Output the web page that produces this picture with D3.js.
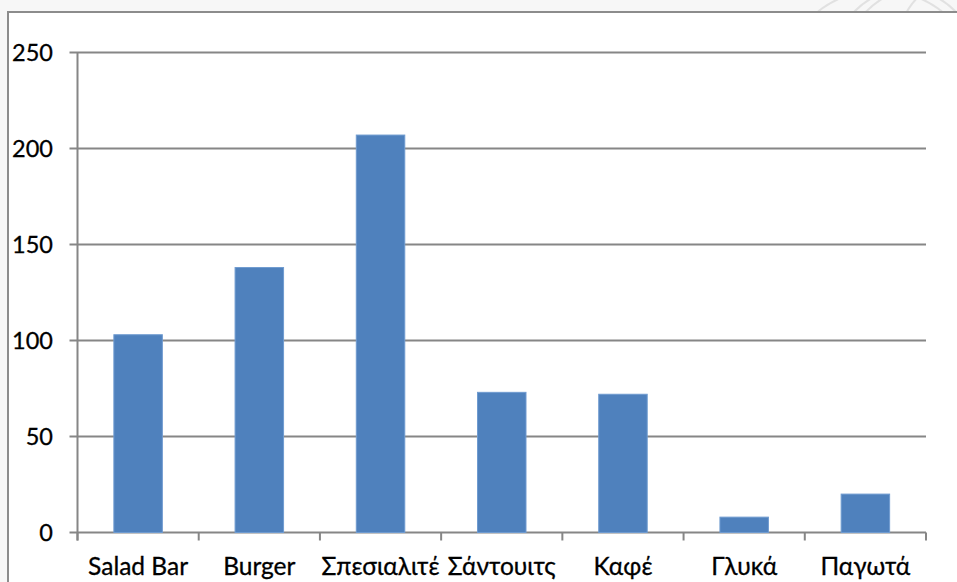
<!DOCTYPE html>
<html>
<head>
<meta charset="utf-8">
<script src="https://cdn.jsdelivr.net/npm/d3@7"></script>
<style>
  html, body { margin: 0; padding: 0; background: #f7f7f7; }
  svg { display: block; }
</style>
</head>
<body>
<svg id="chart" width="957" height="582"></svg>
<script>
// Sales per menu category
const categories = ["Salad Bar", "Burger", "Σπεσιαλιτέ", "Σάντουιτς", "Καφέ", "Γλυκά", "Παγωτά"];
const values = [103, 138, 207, 73, 72, 8, 20];
const yTicks = [0, 50, 100, 150, 200, 250];

const W = 957, H = 582;
const margin = { left: 77.5, right: 31, top: 52.5, bottom: 49.5 };
const svg = d3.select("#chart");

// page frame: light backdrop with a white chart area bounded by a gray border
const frameX = 8, frameY = 12;
svg.append("rect").attr("x", 0).attr("y", 0).attr("width", W).attr("height", H).attr("fill", "#f7f7f7");

// faint decorative arcs in the backdrop strip at the top right
const deco = svg.append("g").attr("fill", "none").attr("stroke", "#dcdcdc").attr("stroke-width", 2).attr("opacity", 0.8);
[[905, 60, 70], [930, 75, 90], [960, 40, 60], [880, 90, 100]].forEach(([cx, cy, r]) => {
  deco.append("circle").attr("cx", cx).attr("cy", cy).attr("r", r);
});

svg.append("rect").attr("x", frameX).attr("y", frameY).attr("width", W).attr("height", H)
  .attr("fill", "#ffffff").attr("stroke", "#8c8c8c").attr("stroke-width", 2);

const x = d3.scaleBand().domain(categories).range([margin.left, W - margin.right]).paddingInner(0.6).paddingOuter(0.3);
const xOuter = d3.scaleBand().domain(categories).range([margin.left, W - margin.right]);
const y = d3.scaleLinear().domain([0, 250]).range([H - margin.bottom, margin.top]);

const gridColor = "#868686";
const font = "Lato, 'Open Sans', sans-serif";

// horizontal gridlines with short ticks to the left of the axis
const grid = svg.append("g");
grid.selectAll("line").data(yTicks).join("line")
  .attr("x1", margin.left - 8).attr("x2", W - margin.right)
  .attr("y1", d => y(d)).attr("y2", d => y(d))
  .attr("stroke", gridColor).attr("stroke-width", 2);

// bars
svg.append("g").selectAll("rect").data(values).join("rect")
  .attr("x", (d, i) => x(categories[i]))
  .attr("width", x.bandwidth())
  .attr("y", d => y(d))
  .attr("height", d => y(0) - y(d))
  .attr("fill", "#4f81bd")
  .attr("stroke", "#6f9bd0").attr("stroke-width", 1);

// vertical axis line
svg.append("line")
  .attr("x1", margin.left).attr("x2", margin.left)
  .attr("y1", y(250)).attr("y2", y(0) + 8)
  .attr("stroke", gridColor).attr("stroke-width", 2);

// category boundary ticks below the baseline
const bounds = categories.map(c => xOuter(c) + xOuter.bandwidth()).concat([margin.left]);
svg.append("g").selectAll("line").data(bounds).join("line")
  .attr("x1", d => d).attr("x2", d => d)
  .attr("y1", y(0)).attr("y2", y(0) + 8)
  .attr("stroke", gridColor).attr("stroke-width", 2);

// y-axis labels
svg.append("g").selectAll("text").data(yTicks).join("text")
  .attr("x", 53).attr("y", d => y(d)).attr("dy", "0.36em")
  .attr("text-anchor", "end")
  .attr("font-family", font).attr("font-size", 23.5).attr("fill", "#000")
  .attr("stroke", "#000").attr("stroke-width", 0.3)
  .text(d => d);

// category labels
svg.append("g").selectAll("text").data(categories).join("text")
  .attr("x", d => xOuter(d) + xOuter.bandwidth() / 2)
  .attr("y", 575)
  .attr("text-anchor", "middle")
  .attr("font-family", font).attr("font-size", 24.5).attr("fill", "#000")
  .attr("stroke", "#000").attr("stroke-width", 0.3)
  .text(d => d);
</script>
</body>
</html>
